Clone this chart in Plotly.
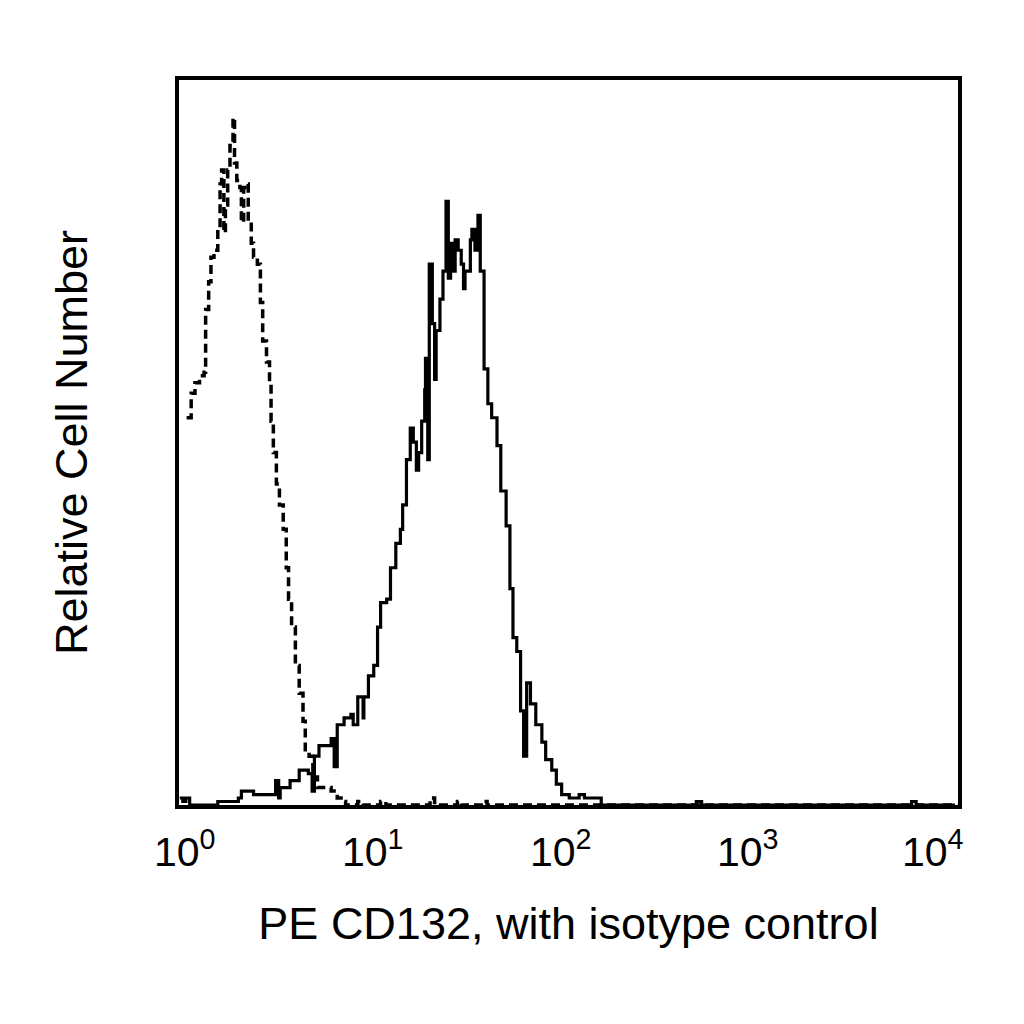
import plotly.graph_objects as go

# histogram channels (1024 channels over 4 decades) and counts
control_channels = [10, 16, 21, 27, 33, 35, 39, 42, 46, 51, 54, 56, 59, 61, 64, 67, 71, 73,
                    76, 80, 82, 85, 89, 91, 95, 98, 103, 107, 110, 115, 119, 121, 124, 128,
                    132, 137, 141, 144, 148, 153, 158, 163, 166, 171, 176, 182, 189, 200, 208,
                    213, 219, 235, 242, 265, 272, 330, 336, 366, 371, 400, 405, 1023]
control_counts = [111, 118, 121, 123, 124, 142, 150, 157, 159, 165, 178, 182, 164, 172, 182,
                  189, 197, 184, 179, 177, 167, 177, 178, 167, 161, 157, 155, 144, 133, 127,
                  121, 110, 101, 92, 86, 79, 68, 59, 51, 40, 32, 24, 15, 14, 8, 5, 5, 4, 2,
                  1, 0, 1, 0, 1, 0, 2, 0, 1, 0, 1, 0, 0]

cd132_channels = [1, 5, 9, 14, 27, 51, 54, 78, 82, 91, 98, 106, 111, 121, 127, 131, 133, 140,
                  146, 153, 158, 165, 170, 175, 178, 184, 196, 200, 204, 208, 217, 226, 229,
                  235, 242, 243, 249, 256, 261, 265, 273, 278, 285, 291, 294, 299, 304, 308,
                  312, 315, 319, 323, 324, 327, 329, 333, 336, 338, 343, 347, 351, 354, 357,
                  360, 363, 367, 371, 374, 376, 383, 385, 389, 393, 396, 401, 406, 411, 418,
                  423, 430, 435, 439, 444, 449, 453, 457, 462, 469, 477, 482, 490, 496, 503,
                  513, 526, 533, 539, 546, 555, 680, 687, 963, 969, 1020]
cd132_counts = [2, 1, 2, 0, 0, 1, 1, 2, 4, 4, 3, 3, 3, 3, 7, 2, 5, 5, 7, 7, 10, 10, 9, 4,
                14, 17, 17, 19, 11, 23, 25, 26, 23, 31, 25, 31, 37, 40, 51, 58, 59, 68, 75,
                79, 86, 99, 108, 104, 96, 101, 110, 119, 128, 99, 155, 138, 122, 136, 145,
                153, 173, 151, 161, 153, 162, 159, 155, 148, 153, 162, 165, 159, 169, 153,
                125, 115, 111, 103, 90, 80, 62, 48, 44, 27, 14, 35, 29, 23, 18, 13, 10, 6,
                3, 2, 3, 2, 2, 2, 0, 1, 0, 1, 0, 0]

decades = [0, 1, 2, 3, 4]
tick_text = ["10<sup>%d</sup>" % d for d in decades]
# the labels in the original sit a little off their decades
label_shift = [6, -1, -8, -15, -25]


def to_intensity(channels):
    return [10 ** (c / 256) for c in channels]


fig = go.Figure()
fig.add_trace(go.Scatter(x=to_intensity(control_channels), y=control_counts, mode='lines',
                         line=dict(color='black', width=3.5, dash='9px,5px', shape='hv'),
                         name='isotype control'))
fig.add_trace(go.Scatter(x=to_intensity(cd132_channels), y=cd132_counts, mode='lines',
                         line=dict(color='black', width=3.2, shape='hv'),
                         name='PE CD132'))

# decade labels as annotations so each can be nudged like the original
for d, txt, dx in zip(decades, tick_text, label_shift):
    fig.add_annotation(x=d, xref='x', y=0, yref='paper', text=txt, showarrow=False,
                       xanchor='center', yanchor='top', xshift=dx, yshift=-16,
                       font=dict(size=41))

fig.update_layout(
    width=1024, height=1024,
    margin=dict(l=171, r=74, t=72, b=227),
    plot_bgcolor='white', paper_bgcolor='white',
    showlegend=False,
    font=dict(family='Liberation Sans, Arial, sans-serif', color='black'),
)
fig.update_xaxes(type='log', range=[0, 4], showticklabels=False,
                 showgrid=False, zeroline=False, showline=True, mirror=True, linecolor='black',
                 linewidth=4, ticks='',
                 title=dict(text='PE CD132, with isotype control', font=dict(size=45), standoff=100))
# zero counts sit on the bottom frame line, as in the original
fig.update_yaxes(range=[0, 207.8], showticklabels=False, showgrid=False, zeroline=False,
                 showline=True, mirror=True, linecolor='black', linewidth=4, ticks='',
                 title=dict(text='Relative Cell Number', font=dict(size=45), standoff=74))

fig.write_html("out.html")
